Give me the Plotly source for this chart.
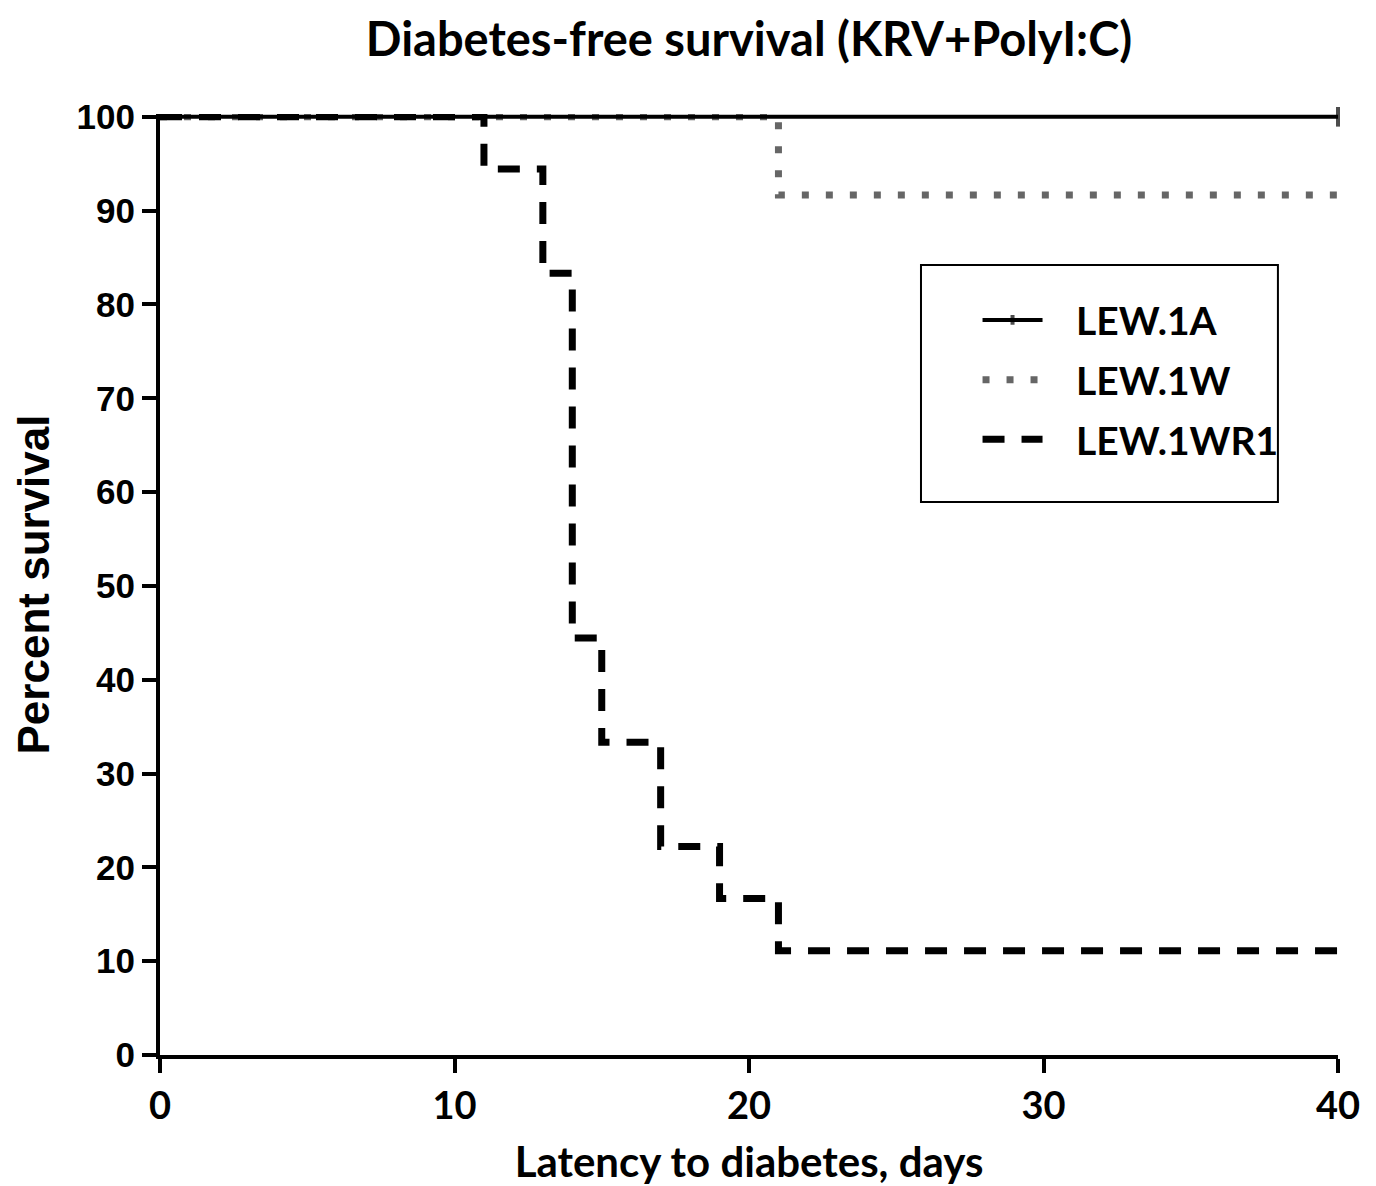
import plotly.graph_objects as go

# Data (Kaplan-Meier step curves)
lew1a_x = [0, 40]
lew1a_y = [100, 100]
lew1a_censor_size = [0, 14]  # censor tick only at last point

lew1w_x = [0, 21, 21, 40]
lew1w_y = [100, 100, 91.67, 91.67]

lew1wr1_t = [0, 11, 13, 14, 15, 17, 19, 21, 40]
lew1wr1_s = [100, 94.44, 83.33, 44.44, 33.33, 22.22, 16.67, 11.11, 11.11]

series_names = ["LEW.1A", "LEW.1W", "LEW.1WR1"]

def steps(t, s):
    xs, ys = [t[0]], [s[0]]
    for i in range(1, len(t)):
        xs += [t[i], t[i]]
        ys += [s[i - 1], s[i]]
    return xs, ys

wr_x, wr_y = steps(lew1wr1_t, lew1wr1_s)
pad = "\u00a0\u00a0\u00a0"

fig = go.Figure()
fig.add_trace(go.Scatter(x=lew1w_x, y=lew1w_y, mode="lines", name=pad + series_names[1],
                         legendrank=2, legendgroup="b",
                         line=dict(color="#666666", width=7, dash="7px,17px")))
fig.add_trace(go.Scatter(x=wr_x, y=wr_y, mode="lines", name=pad + series_names[2],
                         legendrank=3, legendgroup="c",
                         line=dict(color="black", width=7, dash="22px,17px")))
fig.add_trace(go.Scatter(x=lew1a_x, y=lew1a_y, mode="lines+markers", name=pad + series_names[0],
                         legendrank=1, legendgroup="a", cliponaxis=False,
                         line=dict(color="black", width=4),
                         marker=dict(symbol="line-ns-open", size=lew1a_censor_size, color="black",
                                     line=dict(color="black", width=4))))

axis_common = dict(showline=True, linecolor="black", linewidth=4, ticks="outside",
                   tickwidth=4, ticklen=14, tickcolor="black", showgrid=False, zeroline=False,
                   automargin=False)

fig.update_layout(
    width=1376, height=1186,
    paper_bgcolor="white", plot_bgcolor="white",
    margin=dict(l=160, r=38, t=114, b=131, autoexpand=False),
    title=dict(text="Diabetes-free survival (KRV+PolyI:C)", x=0.5, xref="paper", xanchor="center",
               y=0.967, yanchor="middle",
               font=dict(family="Lato", size=47, color="black", weight="bold")),
    xaxis=dict(range=[0, 40], tickvals=[0, 10, 20, 30, 40], **axis_common,
               tickfont=dict(family="Lato", size=38, color="black", weight="bold"),
               title=dict(text="Latency to diabetes, days", standoff=27,
                          font=dict(family="Lato", size=42, color="black", weight="bold"))),
    yaxis=dict(range=[0, 100.3], tickvals=[0, 10, 20, 30, 40, 50, 60, 70, 80, 90, 100], **axis_common,
               tickfont=dict(family="Liberation Sans", size=35, color="black", weight="bold"),
               title=dict(text="Percent survival", standoff=14,
                          font=dict(family="Liberation Sans", size=44, color="black", weight="bold"))),
    legend=dict(x=0.694, y=0.815, xanchor="left", yanchor="top",
                borderwidth=0, bgcolor="rgba(0,0,0,0)",
                itemwidth=60, tracegroupgap=6,
                font=dict(family="Lato", size=39, color="black", weight="bold")),
    shapes=[dict(type="rect", xref="paper", yref="paper", x0=0.646, x1=0.949, y0=0.5877, y1=0.8395,
                 line=dict(color="black", width=2), fillcolor="rgba(0,0,0,0)", layer="above")],
    showlegend=True,
)

fig.write_html("out.html")
